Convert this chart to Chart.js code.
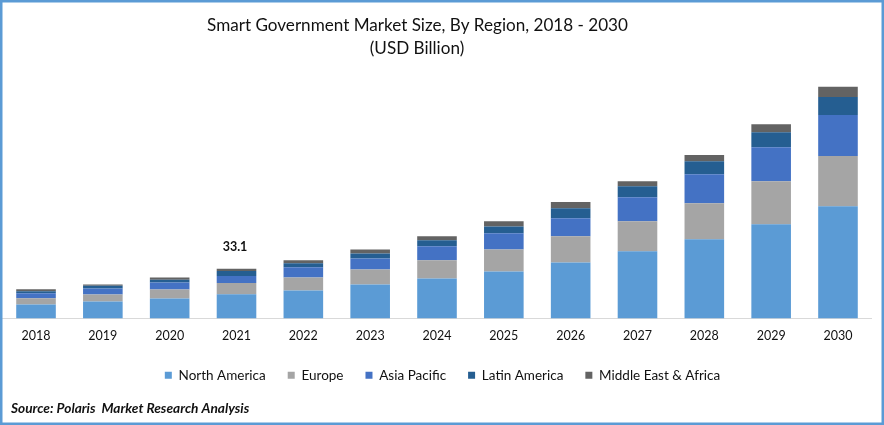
<!DOCTYPE html>
<html><head><meta charset="utf-8">
<script src="https://cdn.jsdelivr.net/npm/chart.js@4"></script>
<style>html,body{margin:0;padding:0;background:#fff}canvas{display:block}</style>
</head><body><canvas id="c" width="884" height="425"></canvas>
<script>
const years=['2018','2019','2020','2021','2022','2023','2024','2025','2026','2027','2028','2029','2030'];
const northAmerica=[9.5,11.5,13.5,16.4,18.9,23,27,31.7,37.8,45.3,53.4,63.5,75.7];
const europe=[4.1,4.7,6.1,7.5,8.8,10.1,12.2,14.9,17.6,20.3,24.3,29,33.8];
const asiaPacific=[3.4,4.1,4.7,4.8,6.8,7.4,9.5,10.8,12.2,16.2,19.6,23,27.7];
const latinAmerica=[1.4,1.8,1.8,3.4,2.7,3.4,4.1,4.7,6.8,7.4,8.8,10.1,12.2];
const middleEastAfrica=[1.4,0.9,1.6,1.5,2,2.7,2.7,3.4,4.1,3.4,4.1,5.4,6.8];
const titleLines=['Smart Government Market Size, By Region, 2018 - 2030','(USD Billion)'];
const sourceText='Source: Polaris  Market Research Analysis';
const calloutIndex=3, calloutText='33.1';
const FONT='Lato, Carlito, sans-serif';

const extras={id:'extras',
 afterLayout(ch){ch.legend.left+=5.5;ch.legend.right+=5.5;},
 afterDraw(ch){
  const g=ch.ctx,x=ch.scales.x,y=ch.scales.y;
  g.save();
  g.fillStyle='#111';g.textAlign='center';g.textBaseline='middle';
  g.font='17.1px '+FONT;
  g.fillText(titleLines[0],417.5,25.5);
  g.fillText(titleLines[1],417,48);
  g.font='bold 12.5px '+FONT;
  const total=[northAmerica,europe,asiaPacific,latinAmerica,middleEastAfrica].reduce((s,a)=>s+a[calloutIndex],0);
  g.fillText(calloutText,x.getPixelForValue(calloutIndex)-1.5,y.getPixelForValue(total)-22);
  g.textAlign='left';g.font='italic bold 13.7px '+FONT;
  g.fillText(sourceText,11,409);
  g.strokeStyle='#5B9BD5';g.lineWidth=2.5;
  g.strokeRect(1.25,1.25,881.5,422.5);
  g.restore();
}};
const bg={id:'bg',beforeDraw(ch){ch.ctx.save();ch.ctx.fillStyle='#fff';ch.ctx.fillRect(0,0,884,425);ch.ctx.restore();}};
function ds(label,data,color){return{label,data,backgroundColor:color,borderWidth:0,barPercentage:0.79,categoryPercentage:0.75,stack:'s'};}
new Chart(document.getElementById('c'),{
  type:'bar',
  data:{labels:years,datasets:[
    ds('North America',northAmerica,'#5B9BD5'),
    ds('Europe',europe,'#A5A5A5'),
    ds('Asia Pacific',asiaPacific,'#4472C4'),
    ds('Latin America',latinAmerica,'#255E91'),
    ds('Middle East & Africa',middleEastAfrica,'#636363')]},
  options:{
    responsive:false,animation:false,
    layout:{padding:{left:2.6,right:12.6,top:60,bottom:33}},
    plugins:{
      title:{display:false},
      legend:{position:'bottom',labels:{boxWidth:7,boxHeight:7,padding:22,color:'#111',font:{family:FONT,size:13.5}}},
      tooltip:{enabled:false}
    },
    scales:{
      x:{stacked:true,grid:{display:false,drawTicks:false},border:{color:'#D9D9D9',width:1},
         afterFit(s){s.height=28;},
         ticks:{color:'#111',padding:10,font:{family:FONT,size:12.5},maxRotation:0}},
      y:{stacked:true,display:false,min:0,max:174.3}
    }
  },
  plugins:[bg,extras]
});
</script></body></html>
